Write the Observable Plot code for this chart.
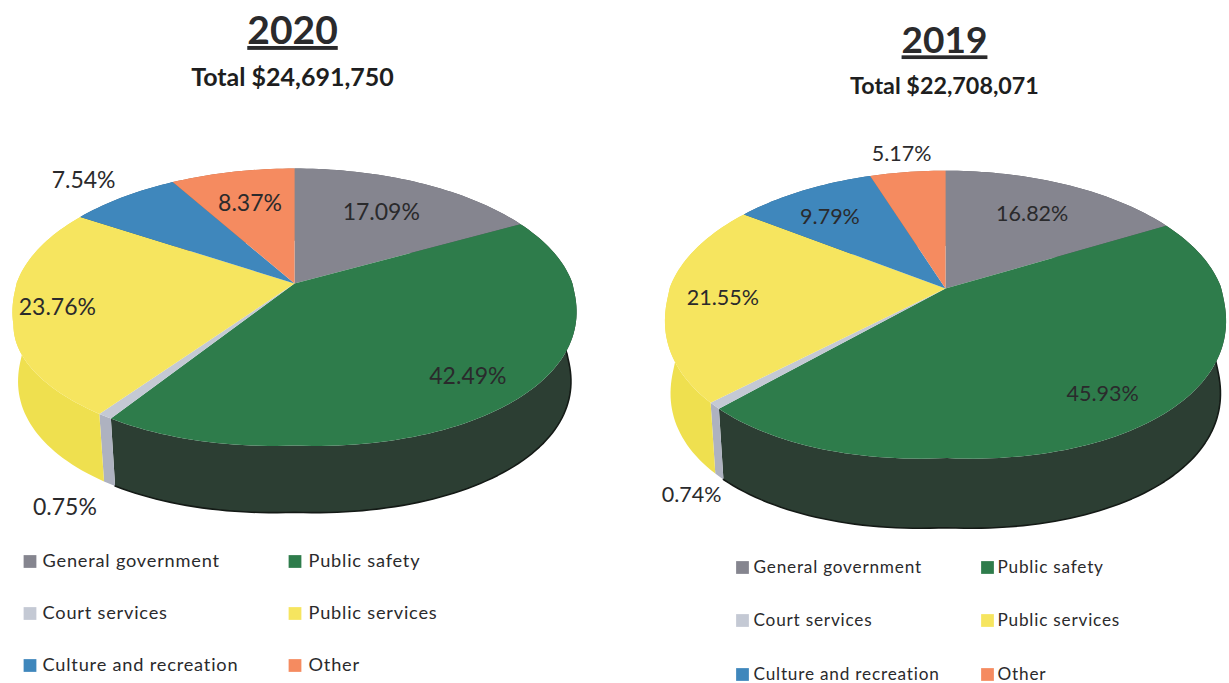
<!DOCTYPE html>
<html>
<head>
<meta charset="utf-8">
<script src="https://cdn.jsdelivr.net/npm/d3@7"></script>
<script src="https://cdn.jsdelivr.net/npm/@observablehq/plot@0.6"></script>
<style>
html,body{margin:0;padding:0;background:#fff;overflow:hidden}
svg{display:block}
.year text{text-decoration:underline;text-decoration-thickness:3px}
.legend text{letter-spacing:.8px}
</style>
</head>
<body>
<div id="chart"></div>
<script>
// ---- data
const categories = ["General government","Public safety","Court services","Public services","Culture and recreation","Other"];
const years = ["2020","2019"];
const totals = ["Total $24,691,750","Total $22,708,071"];
const values2020 = [17.09,42.49,0.75,23.76,7.54,8.37];
const values2019 = [16.82,45.93,0.74,21.55,9.79,5.17];
const legendOrder = [["General government","Public safety"],["Court services","Public services"],["Culture and recreation","Other"]];

// ---- styling and layout, kept apart from the values
const topColors  = ["#85858f","#2e7c4b","#c4c9d4","#f6e55f","#3f87bc","#f58b60"];
const sideColors = ["#5c5c64","#2c3e33","#aeb2c0","#efe04f","#2c6085","#b8663f"];
const pies = [
  {cx:294,cy:283,A:278,b:134.5,k:.17,depth:70,shrink:.98,bump:12,leftBulge:30,
   labelR:[.67,.834,1.45,.846,1.24,.685],labelShift:[0,0,-9.5,-2,-1,0],
   titleX:292,titleY:31,titleSize:39,subY:77,subSize:25,
   legendX:[29.5,294.5],legendTextX:[42,308],legendY:[561,613,665],legendSize:18.2,labelSize:23},
  {cx:945,cy:288,A:276,b:139,k:.18,depth:73,shrink:.98,bump:16,leftBulge:0,
   labelR:[.69,.836,1.38,.80,.729,1.19],labelShift:[0,0,-15.5,-2,-3,0],
   titleX:944,titleY:41,titleSize:37,subY:86,subSize:23.3,
   legendX:[742,987],legendTextX:[753,997],legendY:[567,620,674],legendSize:17.2,labelSize:21.5}
];
const seriesByYear = [values2020, values2019];
const fontFamily = "Lato, 'Open Sans', sans-serif";
const ink = "#2a2a2c";

// perspective projection of a point of the unit disc (u right, v away from viewer)
function project(p, u, v, bottom) {
  const d = 1 + p.k * v, s = bottom ? p.shrink : 1;
  return [p.cx + p.A * s * u / d, p.cy + (bottom ? p.depth : 0) - p.b * s * v / d];
}
// the rim's near half is a little squarer than a true ellipse
function rimPoint(p, u, v, bottom) {
  const [x, y] = project(p, u, v, bottom);
  const drop = v < 0 ? p.bump * Math.abs(u) * Math.sqrt(-v) : 0;
  const bulge = u < 0 && v < -.25 && !bottom ? p.leftBulge * u ** 6 * (-v - .25) : 0;
  return [x - bulge, y + drop];
}
const polar = (rad, r = 1) => [r * Math.sin(rad), r * Math.cos(rad)];
const deg = Math.PI / 180;

const topRows = [], sideRows = [], edgeRows = [], labelRows = [], titleRows = [], subRows = [], swatchRows = [], legendRows = [];
pies.forEach((p, pi) => {
  const vals = seriesByYear[pi];
  const pieGen = d3.pie().sort(null).value(d => d);
  pieGen(vals).forEach((arc, i) => {
    const key = years[pi] + "-" + i;
    const n = Math.max(2, Math.ceil((arc.endAngle - arc.startAngle) / (1.5 * deg)));
    const angles = d3.range(n + 1).map(j => arc.startAngle + (arc.endAngle - arc.startAngle) * j / n);
    const rim = angles.map(a => rimPoint(p, ...polar(a)));
    const low = angles.map(a => rimPoint(p, ...polar(a), true));
    [project(p, 0, 0), ...rim].forEach(([x, y]) => topRows.push({key, cat: categories[i], x, y}));
    [...rim, ...low.slice().reverse()].forEach(([x, y]) => sideRows.push({key, side: sideColors[i], x, y}));
    if (i === 1) low.forEach(([x, y]) => edgeRows.push({key, x, y}));
    const mid = (arc.startAngle + arc.endAngle) / 2 + p.labelShift[i] * deg;
    const [lx, ly] = project(p, ...polar(mid, p.labelR[i]));
    labelRows.push({x: lx, y: ly, text: vals[i].toFixed(2) + "%", size: p.labelSize});
  });
  titleRows.push({x: p.titleX, y: p.titleY, text: years[pi], size: p.titleSize});
  subRows.push({x: p.titleX, y: p.subY, text: totals[pi], size: p.subSize});
  legendOrder.forEach((row, r) => row.forEach((cat, c) => {
    swatchRows.push({x: p.legendX[c], y: p.legendY[r], cat});
    legendRows.push({x: p.legendTextX[c], y: p.legendY[r], text: cat, size: p.legendSize});
  }));
});

const chart = Plot.plot({
  width: 1229, height: 683, margin: 0,
  style: {background: "#fff", fontFamily},
  x: {domain: [0, 1229], range: [0, 1229], axis: null},
  y: {domain: [0, 683], range: [0, 683], axis: null},
  color: {domain: categories, range: topColors},
  marks: [
    Plot.line(sideRows, {x: "x", y: "y", z: "key", fill: d => d.side, stroke: "none"}),
    Plot.line(edgeRows, {x: "x", y: "y", z: "key", stroke: "#141a16", strokeWidth: 1.6}),
    Plot.line(topRows, {x: "x", y: "y", z: "key", fill: "cat", stroke: "none"}),
    Plot.text(titleRows, {x: "x", y: "y", text: "text", fontSize: "size", fontWeight: 700, fill: ink, className: "year"}),
    Plot.text(subRows, {x: "x", y: "y", text: "text", fontSize: "size", fontWeight: 700, fill: "#1e1e20"}),
    Plot.text(labelRows, {x: "x", y: "y", text: "text", fontSize: "size", fill: ink}),
    Plot.dot(swatchRows, {x: "x", y: "y", fill: "cat", symbol: "square", r: 7.2}),
    Plot.text(legendRows, {x: "x", y: "y", text: "text", fontSize: "size", fill: ink, textAnchor: "start", className: "legend"})
  ]
});
document.getElementById("chart").appendChild(chart);
</script>
</body>
</html>
